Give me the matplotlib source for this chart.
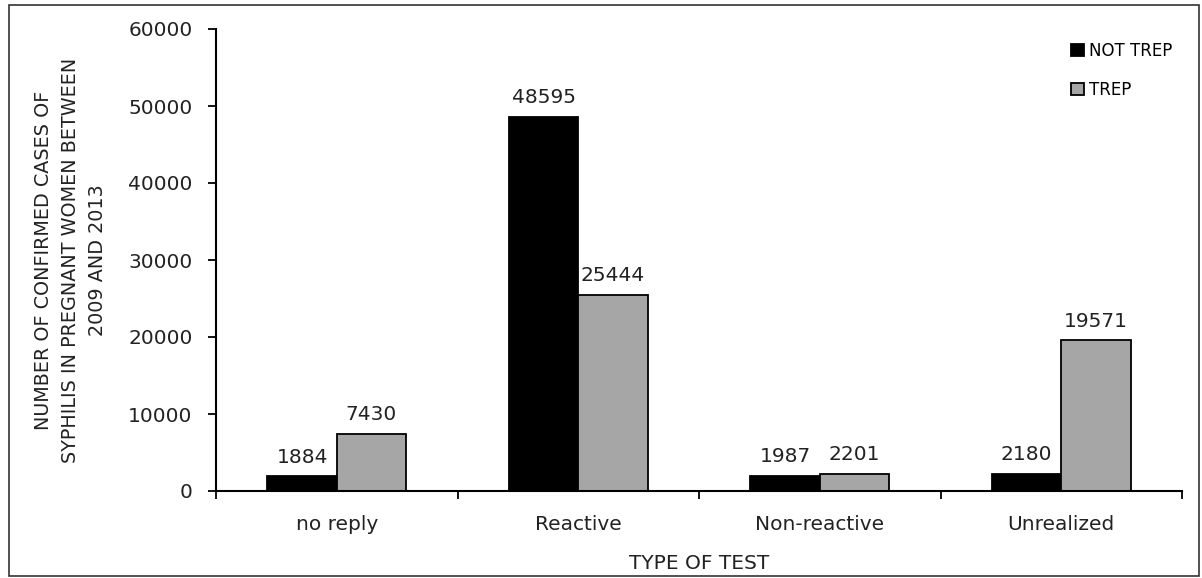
import numpy as np
import matplotlib.pyplot as plt
from matplotlib.patches import Rectangle

# data
categories = ['no reply', 'Reactive', 'Non-reactive', 'Unrealized']
not_trep = [1884, 48595, 1987, 2180]
trep = [7430, 25444, 2201, 19571]
series_names = ['NOT TREP', 'TREP']

plt.rcParams['font.family'] = ['DejaVu Sans']
plt.rcParams['font.size'] = 14.5

fig = plt.figure(figsize=(12.02, 5.78), dpi=100)
ax = fig.add_axes([216/1202, 87/578, 966/1202, 462/578])

x = np.arange(len(categories))
w = 0.287
b1 = ax.bar(x - w/2, not_trep, w, color='black', edgecolor='black', linewidth=1.3,
            label=series_names[0])
b2 = ax.bar(x + w/2, trep, w, color='#a6a6a6', edgecolor='black', linewidth=1.3,
            label=series_names[1])
ax.bar_label(b1, padding=7, color='#222222')
ax.bar_label(b2, padding=7, color='#222222')

ax.set_xlim(-0.5, len(categories) - 0.5)
ax.set_ylim(0, 60000)
ax.set_yticks(np.arange(0, 60001, 10000))
ax.set_xticks(x)
ax.set_xticklabels(categories, color='#222222')
ax.set_xticks(np.arange(-0.5, len(categories), 1), minor=True)
ax.tick_params(axis='x', which='major', length=0, pad=17)
ax.tick_params(axis='x', which='minor', length=6, width=1.3, direction='out')
ax.tick_params(axis='y', length=6, width=1.3, direction='out', pad=11, labelcolor='#222222')

for s in ['top', 'right']:
    ax.spines[s].set_visible(False)
for s in ['left', 'bottom']:
    ax.spines[s].set_linewidth(1.5)

ax.set_xlabel('TYPE OF TEST', labelpad=15, color='#222222')
ax.set_ylabel('NUMBER OF CONFIRMED CASES OF\nSYPHILIS IN PREGNANT WOMEN BETWEEN\n2009 AND 2013',
              labelpad=15, color='#222222', linespacing=1.55, fontsize=13.8)

ax.legend(loc='upper left', bbox_to_anchor=(0.870, 1.005), frameon=False,
          handlelength=0.75, handleheight=0.75, handletextpad=0.3,
          labelspacing=1.25, fontsize=12)

# outer frame
fig.patches.append(Rectangle((9/1202, 2/578), 1190/1202, 571/578, transform=fig.transFigure,
                             fill=False, edgecolor='#333333', linewidth=1.2))

fig.savefig('out.png', dpi=100)
